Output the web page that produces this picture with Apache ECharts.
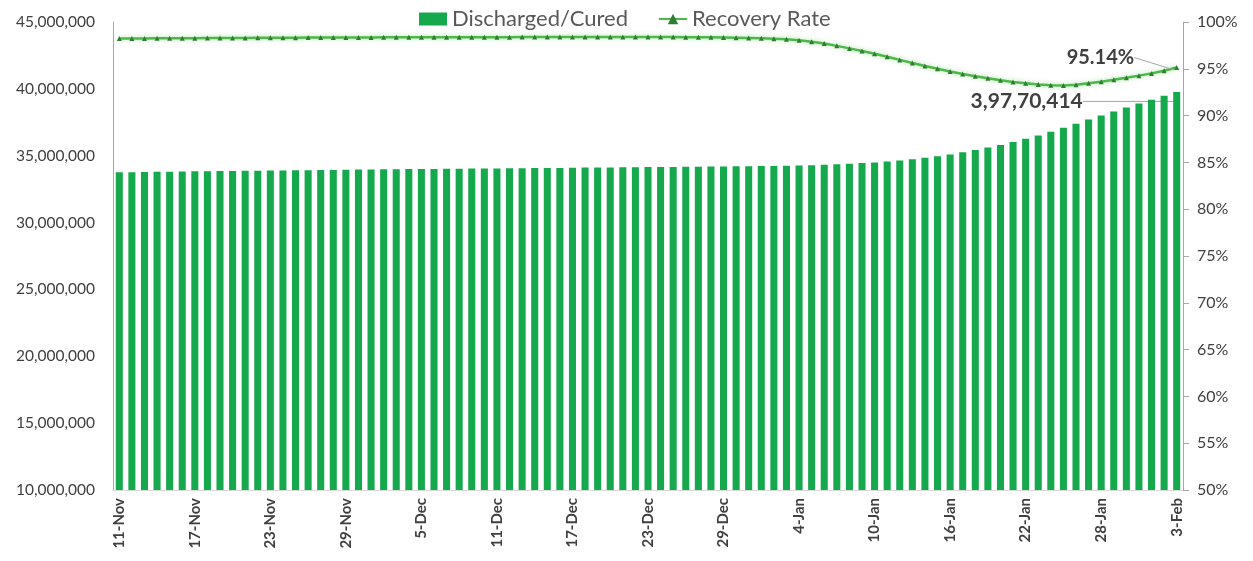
<!DOCTYPE html>
<html lang="en">
<head>
    <meta charset="UTF-8">
    <title>Discharged / Recovery Rate</title>
    <script src="https://cdn.jsdelivr.net/npm/echarts@6.0.0/dist/echarts.min.js"></script>
    <style>
        html, body { margin: 0; padding: 0; background: #fff; }
        #chart { width: 1253px; height: 561px; }
    </style>
</head>
<body>
    <div id="chart"></div>
    <script>
        // dates 11-Nov .. 3-Feb
        const dates = [
            '11-Nov','12-Nov','13-Nov','14-Nov','15-Nov','16-Nov','17-Nov','18-Nov','19-Nov','20-Nov',
            '21-Nov','22-Nov','23-Nov','24-Nov','25-Nov','26-Nov','27-Nov','28-Nov','29-Nov','30-Nov',
            '1-Dec','2-Dec','3-Dec','4-Dec','5-Dec','6-Dec','7-Dec','8-Dec','9-Dec','10-Dec',
            '11-Dec','12-Dec','13-Dec','14-Dec','15-Dec','16-Dec','17-Dec','18-Dec','19-Dec','20-Dec',
            '21-Dec','22-Dec','23-Dec','24-Dec','25-Dec','26-Dec','27-Dec','28-Dec','29-Dec','30-Dec','31-Dec',
            '1-Jan','2-Jan','3-Jan','4-Jan','5-Jan','6-Jan','7-Jan','8-Jan','9-Jan','10-Jan',
            '11-Jan','12-Jan','13-Jan','14-Jan','15-Jan','16-Jan','17-Jan','18-Jan','19-Jan','20-Jan',
            '21-Jan','22-Jan','23-Jan','24-Jan','25-Jan','26-Jan','27-Jan','28-Jan','29-Jan','30-Jan','31-Jan',
            '1-Feb','2-Feb','3-Feb'
        ];

        // discharged / cured, in millions
        const discharged = [
            33.76, 33.77, 33.78, 33.80, 33.81, 33.82, 33.83, 33.84, 33.85, 33.86,
            33.87, 33.88, 33.89, 33.90, 33.91, 33.92, 33.93, 33.94, 33.95, 33.96,
            33.97, 33.98, 33.99, 34.00, 34.00, 34.01, 34.02, 34.03, 34.04, 34.05,
            34.05, 34.06, 34.07, 34.08, 34.09, 34.09, 34.10, 34.11, 34.12, 34.12,
            34.13, 34.14, 34.15, 34.15, 34.16, 34.17, 34.18, 34.19, 34.20, 34.21, 34.22,
            34.23, 34.24, 34.25, 34.27, 34.29, 34.32, 34.36, 34.40, 34.45, 34.50,
            34.57, 34.65, 34.74, 34.84, 34.96, 35.09, 35.25, 35.42, 35.61, 35.81,
            36.03, 36.26, 36.52, 36.80, 37.09, 37.39, 37.70, 38.00, 38.30, 38.60, 38.90,
            39.18, 39.48, 39.770414
        ];

        // recovery rate, %
        const recoveryRate = [
            98.24, 98.25, 98.25, 98.26, 98.26, 98.27, 98.27, 98.28, 98.28, 98.29,
            98.30, 98.31, 98.32, 98.33, 98.33, 98.34, 98.34, 98.35, 98.35, 98.35,
            98.35, 98.36, 98.36, 98.36, 98.37, 98.37, 98.37, 98.38, 98.38, 98.38,
            98.38, 98.38, 98.39, 98.39, 98.39, 98.39, 98.39, 98.40, 98.40, 98.40,
            98.40, 98.40, 98.40, 98.40, 98.40, 98.38, 98.37, 98.36, 98.34, 98.32, 98.30,
            98.27, 98.22, 98.15, 98.05, 97.90, 97.70, 97.45, 97.18, 96.90, 96.60,
            96.28, 95.95, 95.62, 95.30, 95.00, 94.72, 94.45, 94.20, 93.98, 93.78,
            93.60, 93.45, 93.33, 93.25, 93.22, 93.30, 93.45, 93.62, 93.82, 94.04, 94.27,
            94.51, 94.80, 95.14
        ];

        const FONT = 'Lato';
        const TXT = '#404040';

        // 39770414 -> 3,97,70,414
        function indianFormat(n) {
            const s = String(Math.round(n));
            if (s.length <= 3) return s;
            let last3 = s.slice(-3);
            let rest = s.slice(0, -3);
            rest = rest.replace(/\B(?=(\d{2})+(?!\d))/g, ',');
            return rest + ',' + last3;
        }

        const chart = echarts.init(document.getElementById('chart'));
        const lastIdx = dates.length - 1;

        const option = {
            animation: false,
            textStyle: { fontFamily: FONT },
            legend: {
                top: 3,
                left: 414,
                itemGap: 30,
                itemWidth: 28,
                itemHeight: 13,
                textStyle: { fontSize: 22, color: '#595959', fontFamily: FONT },
                data: [
                    { name: 'Discharged/Cured', icon: 'rect' },
                    { name: 'Recovery Rate' }
                ]
            },
            grid: { left: 113, right: 70, top: 22, bottom: 71 },
            xAxis: {
                type: 'category',
                data: dates,
                axisLine: { show: true, lineStyle: { color: '#d9d9d9' } },
                axisTick: { show: false },
                axisLabel: {
                    interval: 5,
                    rotate: 90,
                    fontSize: 15,
                    fontWeight: 'bold',
                    color: TXT,
                    margin: 8
                }
            },
            yAxis: [
                {
                    type: 'value',
                    min: 10,
                    max: 45,
                    interval: 5,
                    splitLine: { show: false },
                    axisLine: { show: true, lineStyle: { color: '#a6a6a6' } },
                    axisTick: { show: false },
                    axisLabel: {
                        fontSize: 15.5,
                        color: TXT,
                        margin: 18,
                        formatter: v => (v * 1e6).toLocaleString('en-US')
                    }
                },
                {
                    type: 'value',
                    min: 50,
                    max: 100,
                    interval: 5,
                    splitLine: { show: false },
                    axisLine: { show: true, lineStyle: { color: '#a6a6a6' } },
                    axisTick: { show: true, length: 6, lineStyle: { color: '#a6a6a6' } },
                    axisLabel: { fontSize: 16, color: TXT, margin: 14, formatter: '{value}%' }
                }
            ],
            series: [
                {
                    name: 'Discharged/Cured',
                    type: 'bar',
                    barWidth: '56%',
                    itemStyle: { color: '#16a84c' },
                    data: discharged.map((v, i) => i === lastIdx ? {
                        value: v,
                        label: {
                            show: true,
                            position: 'top',
                            formatter: p => indianFormat(p.value * 1e6),
                            fontSize: 21,
                            fontWeight: 'bold',
                            color: TXT
                        },
                        labelLine: { show: true, lineStyle: { color: '#a6a6a6', width: 1 } }
                    } : v),
                    labelLayout: p => p.dataIndex === lastIdx ? { dx: -150, dy: 25 } : {}
                },
                {
                    name: 'Recovery Rate',
                    type: 'line',
                    yAxisIndex: 1,
                    smooth: false,
                    symbol: 'triangle',
                    symbolSize: 5,
                    showSymbol: true,
                    lineStyle: {
                        color: '#4cb848',
                        width: 2.5,
                        shadowColor: 'rgba(120, 210, 110, 0.6)',
                        shadowBlur: 5
                    },
                    itemStyle: { color: '#2f7d32' },
                    data: recoveryRate.map((v, i) => i === lastIdx ? {
                        value: v,
                        label: {
                            show: true,
                            position: 'left',
                            formatter: '{c}%',
                            fontSize: 20,
                            fontWeight: 'bold',
                            color: TXT
                        },
                        labelLine: { show: true, lineStyle: { color: '#a6a6a6', width: 1 } }
                    } : v),
                    labelLayout: p => p.dataIndex === lastIdx ? { dx: -35, dy: -10 } : {}
                }
            ]
        };

        chart.setOption(option);
    </script>
</body>
</html>
